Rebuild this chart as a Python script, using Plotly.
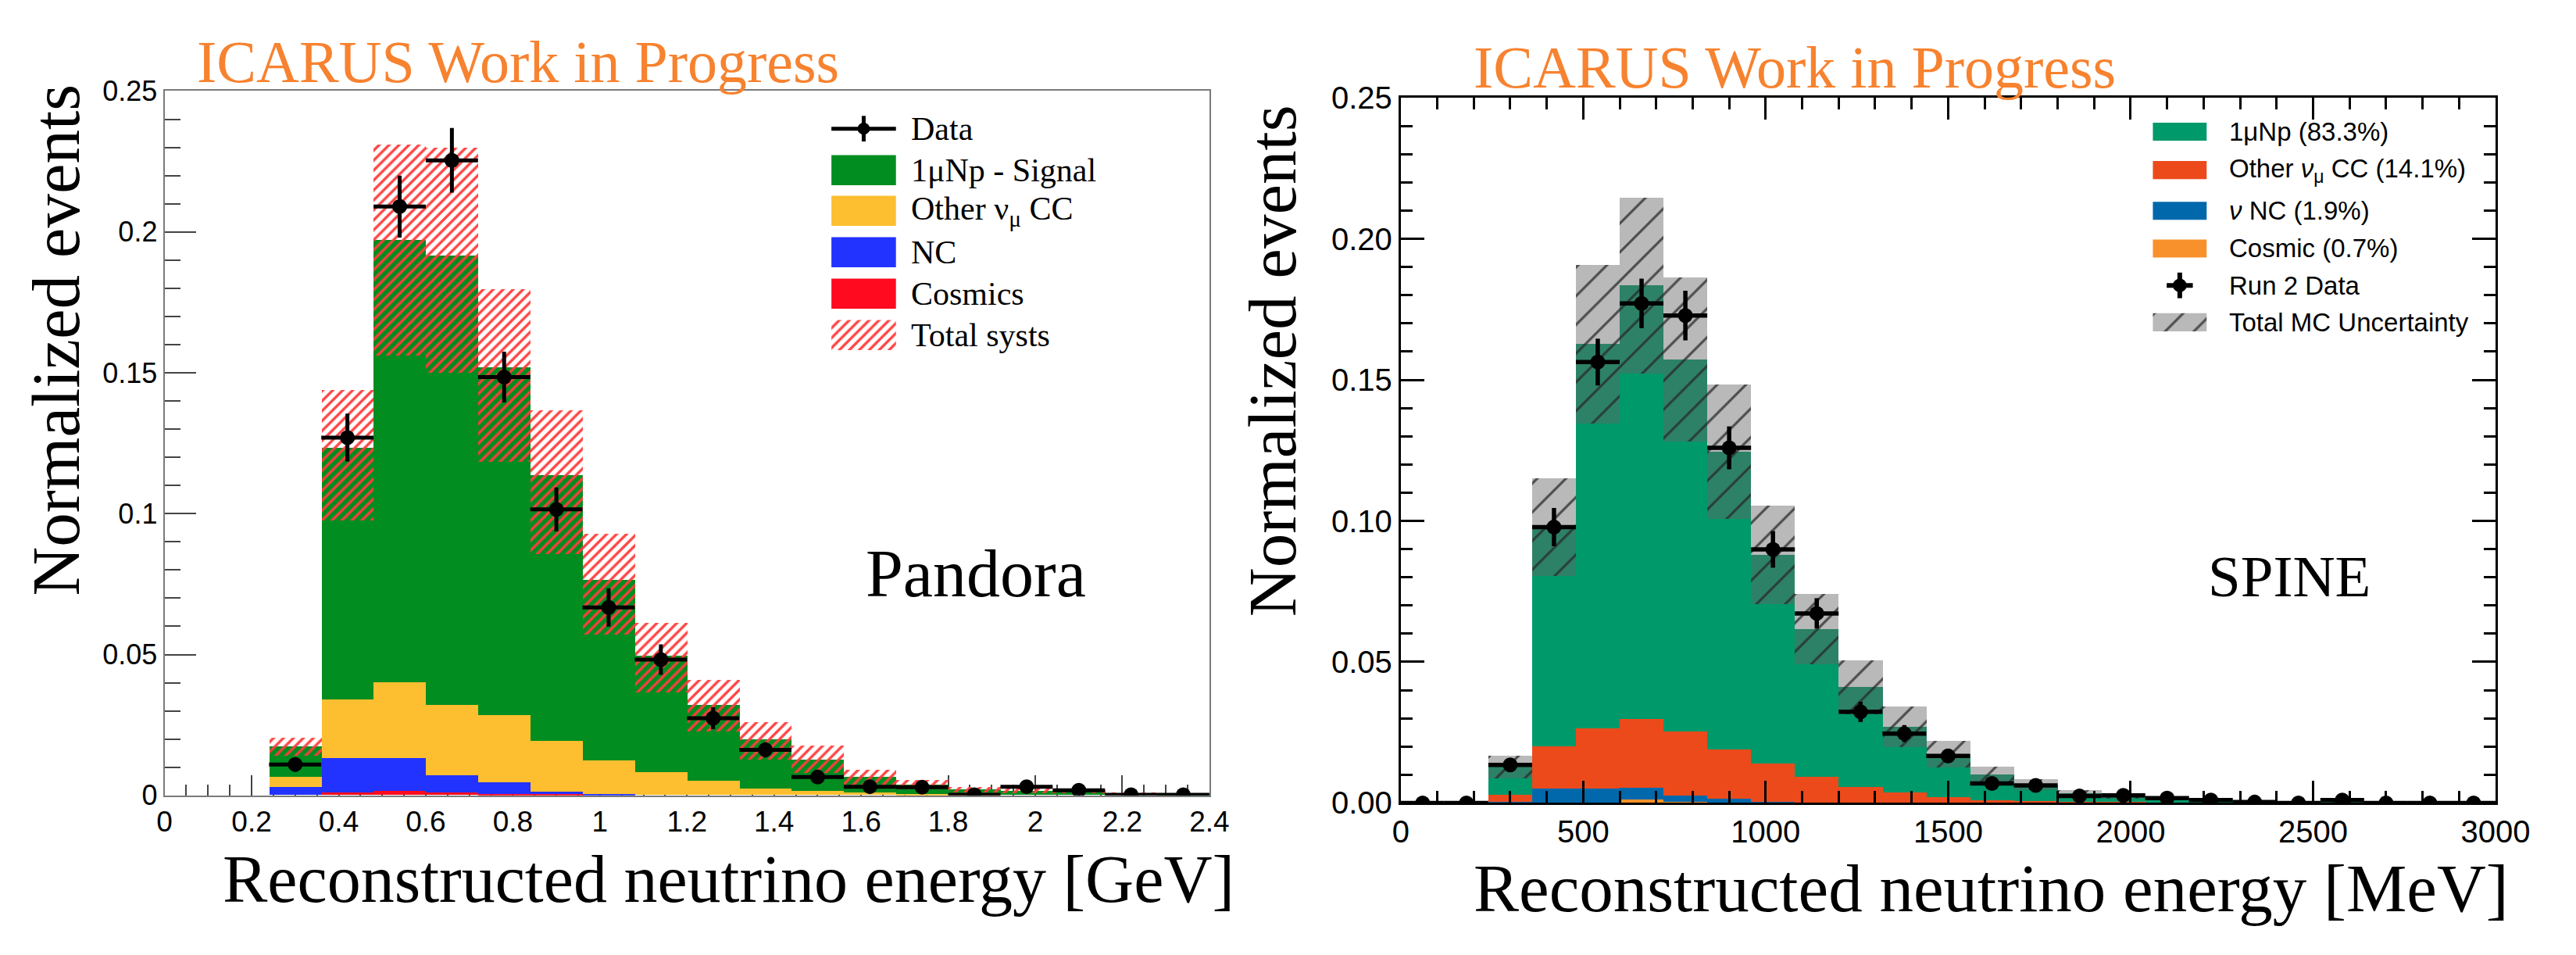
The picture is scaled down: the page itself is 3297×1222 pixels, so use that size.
import plotly.graph_objects as go

# ---------------- Pandora (left panel) ----------------
pan_centers = [0.06, 0.18, 0.30, 0.42, 0.54, 0.66, 0.78, 0.90, 1.02, 1.14,
               1.26, 1.38, 1.50, 1.62, 1.74, 1.86, 1.98, 2.10, 2.22, 2.34]
pan_binw = 0.12
pan_cosmics = [0, 0, 0, 0.0010, 0.0015, 0.0010, 0.0005, 0.0004, 0, 0,
               0, 0, 0, 0, 0, 0, 0, 0, 0, 0]
pan_nc = [0, 0, 0.0029, 0.0122, 0.0117, 0.0059, 0.0039, 0.0009, 0.0003, 0,
          0, 0, 0, 0, 0, 0, 0, 0, 0, 0]
pan_other = [0, 0, 0.0036, 0.0206, 0.0269, 0.0251, 0.0241, 0.0179, 0.0120, 0.0080,
             0.0051, 0.0024, 0.0015, 0.0008, 0.0004, 0.0002, 0, 0, 0, 0]
pan_signal = [0, 0, 0.0107, 0.0895, 0.1568, 0.1595, 0.1232, 0.0943, 0.0642, 0.0416,
              0.0269, 0.0173, 0.0112, 0.0057, 0.0034, 0.0018, 0.0015, 0.0013, 0.0006, 0.0004]
pan_syst_up = [0, 0, 0.0032, 0.0205, 0.0339, 0.0383, 0.0279, 0.0230, 0.0162, 0.0116,
               0.0090, 0.0061, 0.0050, 0.0024, 0.0016, 0.0009, 0.0008, 0.0007, 0.0003, 0.0002]
pan_syst_down = [0, 0, 0.0031, 0.0258, 0.0409, 0.0415, 0.0334, 0.0281, 0.0196, 0.0131,
                 0.0094, 0.0070, 0.0049, 0.0032, 0.0018, 0.0010, 0.0008, 0.0007, 0.0003, 0.0002]
pan_data_x = [0.30, 0.42, 0.54, 0.66, 0.78, 0.90, 1.02, 1.14, 1.26, 1.38,
              1.50, 1.62, 1.74, 1.86, 1.98, 2.10, 2.22, 2.34]
pan_data = [0.0110, 0.1270, 0.2090, 0.2254, 0.1485, 0.1015, 0.0667, 0.0482, 0.0274, 0.0162,
            0.0065, 0.0031, 0.0029, 0.0002, 0.0031, 0.0018, 0.0002, 0.0002]
pan_data_err = [0.0025, 0.0085, 0.0110, 0.0115, 0.0090, 0.0078, 0.0068, 0.0054, 0.0039, 0.0027,
                0.0020, 0.0015, 0.0015, 0.0008, 0.0015, 0.0010, 0.0005, 0.0005]

# ---------------- SPINE (right panel) ----------------
sp_centers = [60, 180, 300, 420, 540, 660, 780, 900, 1020, 1140, 1260, 1380, 1500,
              1620, 1740, 1860, 1980, 2100, 2220, 2340, 2460, 2580, 2700, 2820, 2940]
sp_binw = 120
sp_cosmic = [0, 0, 0, 0, 0.0002, 0.0013, 0.0003, 0.0001, 0, 0, 0, 0, 0,
             0, 0, 0, 0, 0, 0, 0, 0, 0, 0, 0, 0]
sp_nc = [0, 0, 0.0003, 0.0050, 0.0048, 0.0041, 0.0022, 0.0013, 0.0004, 0, 0, 0, 0,
         0, 0, 0, 0, 0, 0, 0, 0, 0, 0, 0, 0]
sp_other = [0, 0, 0.0026, 0.0150, 0.0215, 0.0242, 0.0227, 0.0174, 0.0134, 0.0091, 0.0055, 0.0037, 0.0020,
            0.0009, 0.0006, 0.0004, 0.0003, 0.0002, 0.0001, 0.0001, 0, 0, 0, 0, 0]
sp_signal = [0, 0, 0.0106, 0.0778, 0.1361, 0.1538, 0.1320, 0.1057, 0.0742, 0.0525, 0.0355, 0.0233, 0.0153,
             0.0091, 0.0059, 0.0029, 0.0022, 0.0013, 0.0009, 0.0006, 0.0005, 0.0004, 0.0003, 0.0002, 0.0002]
sp_unc_up = [0, 0, 0.0032, 0.0174, 0.0282, 0.0312, 0.0292, 0.0239, 0.0175, 0.0125, 0.0095, 0.0072, 0.0047,
             0.0028, 0.0020, 0.0011, 0.0009, 0.0007, 0.0005, 0.0003, 0.0002, 0.0002, 0.0002, 0.0001, 0.0001]
sp_unc_down = [0, 0, 0.0048, 0.0174, 0.0282, 0.0312, 0.0292, 0.0239, 0.0175, 0.0125, 0.0095, 0.0072, 0.0047,
               0.0028, 0.0020, 0.0011, 0.0009, 0.0007, 0.0005, 0.0003, 0.0002, 0.0002, 0.0002, 0.0001, 0.0001]
sp_data = [0, 0, 0.0135, 0.0978, 0.1563, 0.1771, 0.1728, 0.1259, 0.0899, 0.0672, 0.0323, 0.0246, 0.0167,
           0.0069, 0.0062, 0.0025, 0.0027, 0.0017, 0.0010, 0.0003, 0.0, 0.0010, 0, 0, 0]
sp_data_err = [0, 0, 0.0022, 0.0068, 0.0083, 0.0088, 0.0088, 0.0076, 0.0065, 0.0054, 0.0036, 0.0030, 0.0025,
               0.0016, 0.0015, 0.0010, 0.0010, 0.0008, 0.0006, 0.0003, 0, 0.0006, 0, 0, 0]

# colours
PAN_COL = {"sig": "#018d1f", "other": "#fdbf2f", "nc": "#2232ff", "cos": "#ff0a1e"}
SP_COL = {"sig": "#00996a", "other": "#ec4a1b", "nc": "#0068ab", "cos": "#f8912b"}
ORANGE = "#f7822f"

W, H = 3297, 1222
fig = go.Figure()


def add_stack(centers, width, comps, xa, ya):
    base = [0.0] * len(centers)
    for vals, col in comps:
        fig.add_trace(go.Bar(x=centers, y=vals, base=list(base), width=width,
                             marker=dict(color=col, line=dict(width=0)),
                             xaxis=xa, yaxis=ya, showlegend=False, hoverinfo="skip"))
        base = [b + v for b, v in zip(base, vals)]
    return base


# Left panel
pan_total = add_stack(pan_centers, pan_binw,
                      [(pan_cosmics, PAN_COL["cos"]), (pan_nc, PAN_COL["nc"]),
                       (pan_other, PAN_COL["other"]), (pan_signal, PAN_COL["sig"])], "x", "y")
fig.add_trace(go.Bar(
    x=pan_centers, y=[u + d for u, d in zip(pan_syst_up, pan_syst_down)],
    base=[t - d for t, d in zip(pan_total, pan_syst_down)], width=pan_binw,
    marker=dict(color="rgba(0,0,0,0)", line=dict(width=0),
                pattern=dict(shape="/", fgcolor="rgba(255,60,60,0.95)", bgcolor="rgba(0,0,0,0)",
                             size=9, solidity=0.38, fillmode="replace")),
    xaxis="x", yaxis="y", showlegend=False, hoverinfo="skip"))
fig.add_trace(go.Scatter(
    x=pan_data_x, y=pan_data, mode="markers",
    marker=dict(size=19, color="black"),
    error_x=dict(type="constant", value=pan_binw / 2, thickness=5, width=0, color="black"),
    error_y=dict(type="data", array=pan_data_err, thickness=5, width=0, color="black"),
    xaxis="x", yaxis="y", showlegend=False, hoverinfo="skip"))

# Right panel
sp_total = add_stack(sp_centers, sp_binw,
                     [(sp_cosmic, SP_COL["cos"]), (sp_nc, SP_COL["nc"]),
                      (sp_other, SP_COL["other"]), (sp_signal, SP_COL["sig"])], "x2", "y2")
fig.add_trace(go.Bar(
    x=sp_centers, y=[u + d for u, d in zip(sp_unc_up, sp_unc_down)],
    base=[t - d for t, d in zip(sp_total, sp_unc_down)], width=sp_binw,
    marker=dict(color="rgba(100,100,100,0.45)", line=dict(width=0),
                pattern=dict(shape="/", fgcolor="rgba(40,40,40,0.75)", bgcolor="rgba(100,100,100,0.45)",
                             size=26, solidity=0.12, fillmode="replace")),
    xaxis="x2", yaxis="y2", showlegend=False, hoverinfo="skip"))
fig.add_trace(go.Scatter(
    x=sp_centers, y=sp_data, mode="markers",
    marker=dict(size=19, color="black"),
    error_x=dict(type="constant", value=sp_binw / 2, thickness=5.5, width=0, color="black"),
    error_y=dict(type="data", array=sp_data_err, thickness=5.5, width=0, color="black"),
    xaxis="x2", yaxis="y2", showlegend=False, hoverinfo="skip"))

# ---- legend swatches with hatch (pixel overlay axes x3/y3) ----
def hatch_box(x0, x1, y0, y1, fg, bg, size, sol):
    fig.add_trace(go.Scatter(
        x=[x0, x1, x1, x0, x0], y=[y0, y0, y1, y1, y0], mode="lines", fill="toself",
        fillcolor=bg, line=dict(width=0),
        fillpattern=dict(shape="/", fgcolor=fg, bgcolor=bg, size=size, solidity=sol, fillmode="replace"),
        xaxis="x3", yaxis="y3", showlegend=False, hoverinfo="skip"))

hatch_box(1071, 1155, 402, 442, "rgba(255,60,60,0.95)", "rgba(255,255,255,0)", 9, 0.38)
hatch_box(2791, 2861, 393, 417, "rgba(40,40,40,0.75)", "rgba(100,100,100,0.45)", 26, 0.12)

shapes = []
annots = []

def rect(x0, x1, y0, y1, col):
    shapes.append(dict(type="rect", xref="x3", yref="y3", x0=x0, x1=x1, y0=y0, y1=y1,
                       fillcolor=col, line=dict(width=0), layer="above"))

def line(x0, y0, x1, y1, w):
    shapes.append(dict(type="line", xref="x3", yref="y3", x0=x0, y0=y0, x1=x1, y1=y1,
                       line=dict(color="black", width=w), layer="above"))

def dot(cx, cy, r):
    shapes.append(dict(type="circle", xref="x3", yref="y3", x0=cx - r, x1=cx + r, y0=cy - r, y1=cy + r,
                       fillcolor="black", line=dict(width=0), layer="above"))

def text(x, y, s, size, family, color="black", xanchor="left", angle=0):
    annots.append(dict(xref="x3", yref="y3", x=x, y=y, text=s, showarrow=False,
                       xanchor=xanchor, yanchor="middle", textangle=angle,
                       font=dict(size=size, family=family, color=color)))

SERIF = "Liberation Serif"
SANS = "Liberation Sans"

# Left legend
line(1071, 148, 1155, 148, 5)
line(1113, 131, 1113, 165, 5)
dot(1113, 148, 8)
rect(1071, 1155, 183, 223, PAN_COL["sig"])
rect(1071, 1155, 237, 277, PAN_COL["other"])
rect(1071, 1155, 292, 332, PAN_COL["nc"])
rect(1071, 1155, 347, 387, PAN_COL["cos"])
left_leg = ["Data", "1μNp - Signal", "Other ν<sub>μ</sub> CC", "NC", "Cosmics", "Total systs"]
for s, cy in zip(left_leg, [148, 203, 257, 312, 367, 422]):
    text(1173, cy, s, 42, SERIF)

# Right legend
rect(2791, 2861, 140, 164, SP_COL["sig"])
rect(2791, 2861, 191, 215, SP_COL["other"])
rect(2791, 2861, 245, 269, SP_COL["nc"])
rect(2791, 2861, 295, 319, SP_COL["cos"])
line(2809, 356, 2843, 356, 6)
line(2826, 339, 2826, 373, 6)
dot(2826, 356, 9)
right_leg = ["1μNp (83.3%)", "Other <i>ν</i><sub>μ</sub> CC (14.1%)", "<i>ν</i> NC (1.9%)",
             "Cosmic (0.7%)", "Run 2 Data", "Total MC Uncertainty"]
for s, cy in zip(right_leg, [152, 203, 257, 307, 356, 405]):
    text(2888, cy, s, 33, SANS)

# Titles / labels
text(243, 59, "ICARUS Work in Progress", 76, SERIF, ORANGE)
text(1905, 66, "ICARUS Work in Progress", 76, SERIF, ORANGE)
text(277, 1144, "Reconstructed neutrino energy [GeV]", 86, SERIF)
text(1905, 1156, "Reconstructed neutrino energy [MeV]", 87, SERIF)
annots.append(dict(xref="x3", yref="y3", x=62, y=428, text="Normalized events", showarrow=False,
                   xanchor="center", yanchor="middle", textangle=-90,
                   font=dict(size=87, family=SERIF, color="black")))
annots.append(dict(xref="x3", yref="y3", x=1645, y=456, text="Normalized events", showarrow=False,
                   xanchor="center", yanchor="middle", textangle=-90,
                   font=dict(size=87, family=SERIF, color="black")))
text(1114, 739, "Pandora", 86, SERIF)
text(2861, 742, "SPINE", 75, SERIF)

# ---- axes ----
lx0, lx1, ly0, ly1 = 203, 1563, 98, 1033
rx0, rx1, ry0, ry1 = 1812, 3237, 107, 1043

fig.update_layout(
    width=W, height=H, margin=dict(l=0, r=0, t=0, b=0),
    paper_bgcolor="white", plot_bgcolor="rgba(0,0,0,0)",
    barmode="overlay", bargap=0, showlegend=False,
    shapes=shapes, annotations=annots,
    xaxis=dict(domain=[lx0 / W, lx1 / W], range=[0, 2.4], anchor="y",
               showline=True, linecolor="#7a7a7a", linewidth=2, mirror=True,
               ticks="inside", ticklen=26, tickwidth=2, tickcolor="#444", dtick=0.2, tick0=0,
               minor=dict(ticks="inside", dtick=0.05, ticklen=14, tickwidth=2, tickcolor="#444"),
               tickfont=dict(size=37, family=SANS, color="black"),
               showgrid=False, zeroline=False, layer="below traces", fixedrange=True),
    yaxis=dict(domain=[1 - ly1 / H, 1 - ly0 / H], range=[0, 0.25], anchor="x",
               showline=True, linecolor="#7a7a7a", linewidth=2, mirror=True,
               ticks="inside", ticklen=40, tickwidth=2, tickcolor="#444", dtick=0.05, tick0=0,
               minor=dict(ticks="inside", dtick=0.01, ticklen=20, tickwidth=2, tickcolor="#444"),
               tickfont=dict(size=36, family=SANS, color="black"),
               showgrid=False, zeroline=False, layer="below traces", fixedrange=True),
    xaxis2=dict(domain=[rx0 / W, rx1 / W], range=[0, 3000], anchor="y2",
                showline=True, linecolor="black", linewidth=3, mirror="ticks",
                ticks="inside", ticklen=28, tickwidth=2.5, tickcolor="black", dtick=500, tick0=0,
                minor=dict(ticks="inside", dtick=100, ticklen=15, tickwidth=2.5, tickcolor="black"),
                tickfont=dict(size=40, family=SANS, color="black"),
                showgrid=False, zeroline=False, fixedrange=True),
    yaxis2=dict(domain=[1 - ry1 / H, 1 - ry0 / H], range=[0, 0.25], anchor="x2",
                showline=True, linecolor="black", linewidth=3, mirror="ticks",
                ticks="inside", ticklen=30, tickwidth=2.5, tickcolor="black", dtick=0.05, tick0=0,
                tickformat=".2f",
                minor=dict(ticks="inside", dtick=0.01, ticklen=15, tickwidth=2.5, tickcolor="black"),
                tickfont=dict(size=40, family=SANS, color="black"),
                showgrid=False, zeroline=False, fixedrange=True),
    xaxis3=dict(domain=[0, 1], range=[0, W], visible=False, fixedrange=True, anchor="y3"),
    yaxis3=dict(domain=[0, 1], range=[H, 0], visible=False, fixedrange=True, anchor="x3"),
)

fig.write_html("out.html", config={"displayModeBar": False},
               post_script="document.body.style.margin='0';")
